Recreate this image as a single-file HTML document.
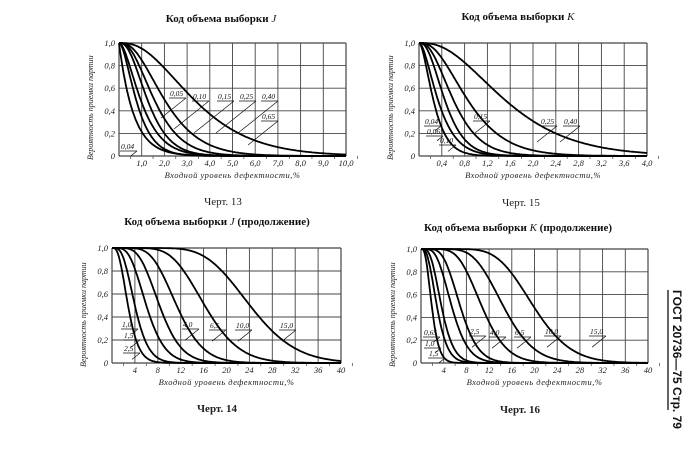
<!DOCTYPE html>
<html><head><meta charset="utf-8">
<style>
html,body{margin:0;padding:0;background:#fff;}
body{width:700px;height:449px;overflow:hidden;position:relative;}
svg{position:absolute;left:0;top:0;}
</style></head>
<body>
<svg id="s" width="700" height="449" viewBox="0 0 700 449" xmlns="http://www.w3.org/2000/svg" font-family="Liberation Serif, serif">
<g font-weight="bold" font-size="11" text-anchor="middle" fill="#111">
<text x="221" y="22">Код объема выборки <tspan font-style="italic" font-weight="normal">J</tspan></text>
<text x="518" y="20">Код объема выборки <tspan font-style="italic" font-weight="normal">K</tspan></text>
<text x="217" y="225">Код объема выборки <tspan font-style="italic" font-weight="normal">J</tspan> (продолжение)</text>
<text x="518" y="231">Код объема выборки <tspan font-style="italic" font-weight="normal">K</tspan> (продолжение)</text>
</g>
<g font-size="11" text-anchor="middle" fill="#222">
<text x="223" y="205">Черт. 13</text>
<text x="521" y="206">Черт. 15</text>
<text x="217" y="412" font-weight="bold">Черт. 14</text>
<text x="520" y="413" font-weight="bold">Черт. 16</text>
</g>
<line x1="668" y1="290" x2="668" y2="410" stroke="#111" stroke-width="1.3"/>
<text transform="translate(673,290) rotate(90)" font-size="12" font-weight="bold" fill="#111" font-family="Liberation Sans, sans-serif">ГОСТ 20736—75 Стр. 79</text>
<g id="g"></g>
</svg>
<script>
var NS="http://www.w3.org/2000/svg",G=document.getElementById('g');
function el(t,a,txt){var e=document.createElementNS(NS,t);for(var k in a)e.setAttribute(k,a[k]);if(txt!=null)e.textContent=txt;G.appendChild(e);return e;}
function pc(c,m){var s=0,t=Math.exp(-m);for(var i=0;i<=c;i++){s+=t;t*=m/(i+1);}return s;}
function med(c){var lo=0,hi=100;for(var i=0;i<60;i++){var mi=(lo+hi)/2;if(pc(c,mi)>0.5)lo=mi;else hi=mi;}return lo;}
function chart(o){
 var x0=o.x0,x1=o.x1,y0=o.y0,y1=o.y1,W=x1-x0,H=y1-y0;
 for(var i=0;i<=10;i++){var x=x0+W*i/10;el('line',{x1:x,y1:y0,x2:x,y2:y1,stroke:'#444','stroke-width':i==0||i==10?1.2:0.9});
  if(i>0)el('text',{x:x,y:y1+10,'font-size':8.5,'font-style':'italic','text-anchor':'middle',fill:'#222'},o.xl[i-1]);
  el('line',{x1:x+W/20,y1:y1,x2:x+W/20,y2:y1+3,stroke:'#444','stroke-width':0.7});}
 for(var j=0;j<=5;j++){var y=y0+H*j/5;el('line',{x1:x0,y1:y,x2:x1,y2:y,stroke:'#444','stroke-width':j==0||j==5?1.2:0.9});
  el('text',{x:x0-4,y:y+3,'font-size':8.5,'font-style':'italic','text-anchor':'end',fill:'#222'},j==5?'0':(1-j*0.2).toFixed(1).replace('.',','));}
 el('text',{x:(x0+x1)/2,y:y1+22,'font-size':8.5,'font-style':'italic','text-anchor':'middle',fill:'#222','letter-spacing':'0.5'},'Входной  уровень  дефектности,%');
 el('text',{transform:'translate('+(x0-26)+','+(y1+4)+') rotate(-90)','font-size':8,'font-style':'italic',fill:'#222'},'Вероятность  приемки  партии');
 o.c.forEach(function(cv){var k=med(cv[0])/cv[1],d='';
  for(var i=0;i<=200;i++){var v=o.xm*i/200,p=pc(cv[0],v*k);d+=(i?'L':'M')+(x0+W*v/o.xm).toFixed(1)+','+(y1-H*p).toFixed(1);}
  el('path',{d:d,fill:'none',stroke:'#000','stroke-width':1.8});});
 o.lb.forEach(function(l){el('text',{x:l[1],y:l[2],'font-size':7.5,'font-style':'italic',fill:'#111'},l[0]);
  el('line',{x1:l[1]-1,y1:l[2]+2,x2:l[1]+16,y2:l[2]+2,stroke:'#111','stroke-width':0.7});
  el('line',{x1:l[1]+16,y1:l[2]+2,x2:l[1]+16-l[3],y2:l[2]+2+l[3]*0.8,stroke:'#111','stroke-width':0.7});});
}
chart({x0:119,x1:346,y0:43,y1:156,xm:10,xl:['1,0','2,0','3,0','4,0','5,0','6,0','7,0','8,0','9,0','10,0'],
 c:[[0,0.45],[1,0.75],[1,0.95],[2,1.25],[2,1.55],[2,2.0],[2,3.3]],
 lb:[['0,05',170,96,25],['0,10',193,99,35],['0,15',218,99,40],['0,25',240,99,40],['0,40',262,99,40],['0,65',262,119,30],['0,04',121,149,6]]});
chart({x0:419,x1:647,y0:43,y1:156,xm:4,xl:['0,4','0,8','1,2','1,6','2,0','2,4','2,8','3,2','3,6','4,0'],
 c:[[1,0.25],[1,0.33],[2,0.45],[2,0.6],[2,0.85],[2,1.5]],
 lb:[['0,15',474,119,15],['0,25',541,124,20],['0,40',564,124,20],['0,04',425,124,6],['0,065',427,134,6],['0,10',440,143,8]]});
chart({x0:112,x1:341,y0:248,y1:363,xm:40,xl:['4','8','12','16','20','24','28','32','36','40'],
 c:[[3,2.8],[4,4.0],[5,6.0],[7,8.3],[9,11.3],[11,16.2],[14,24.1]],
 lb:[['1,0',122,327,6],['1,5',124,338,10],['2,5',124,351,8],['4,0',183,327,14],['6,5',210,328,14],['10,0',236,328,14],['15,0',280,328,14]]});
chart({x0:421,x1:648,y0:249,y1:363,xm:40,xl:['4','8','12','16','20','24','28','32','36','40'],
 c:[[3,1.9],[3,2.8],[4,3.6],[5,5.4],[7,6.9],[9,10.7],[11,14.5],[14,19.8]],
 lb:[['0,65',424,335,6],['1,0',425,346,6],['1,5',429,356,6],['2,5',470,334,14],['4,0',490,335,14],['6,5',515,335,14],['10,0',545,334,14],['15,0',590,334,14]]});
</script>
</body></html>
